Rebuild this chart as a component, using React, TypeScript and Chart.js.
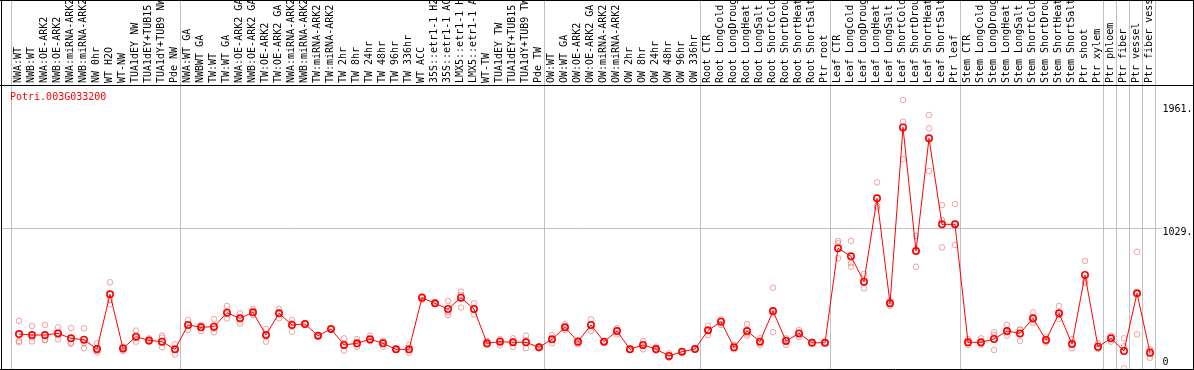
import React, { useEffect, useRef } from 'react';
import { Chart, registerables } from 'chart.js';

Chart.register(...registerables);

const GENE_TITLE = 'Potri.003G033200';

const categories = [
  'NWA:WT', 'NWB:WT', 'NWA:OE-ARK2', 'NWB:OE-ARK2', 'NWA:miRNA-ARK2', 'NWB:miRNA-ARK2', 'NW 0hr', 'WT H2O', 'WT-NW',
  'TUA1dEY NW', 'TUA1dEY+TUB15', 'TUA1dY+TUB9 NW', 'Pde NW',
  'NWA:WT GA', 'NWBWT GA', 'TW:WT', 'TW:WT GA', 'NWA:OE-ARK2 GA', 'NWB:OE-ARK2 GA', 'TW:OE-ARK2', 'TW:OE-ARK2 GA',
  'NWA:miRNA-ARK2', 'NWB:miRNA-ARK2', 'TW:miRNA-ARK2', 'TW:miRNA-ARK2', 'TW 2hr', 'TW 8hr', 'TW 24hr', 'TW 48hr',
  'TW 96hr', 'TW 336hr', 'WT ACC', '35S::etr1-1 H2', '35S::etr1-1 AC', 'LMX5::etr1-1 H', 'LMX5::etr1-1 A', 'WT-TW',
  'TUA1dEY TW', 'TUA1dEY+TUB15', 'TUA1dY+TUB9 TW', 'Pde TW',
  'OW:WT', 'OW:WT GA', 'OW:OE-ARK2', 'OW:OE-ARK2 GA', 'OW:miRNA-ARK2', 'OW:miRNA-ARK2', 'OW 2hr', 'OW 8hr', 'OW 24hr',
  'OW 48hr', 'OW 96hr', 'OW 336hr',
  'Root CTR', 'Root LongCold', 'Root LongDroug', 'Root LongHeat', 'Root LongSalt', 'Root ShortCold', 'Root ShortDrou',
  'Root ShortHeat', 'Root ShortSalt', 'Ptr root',
  'Leaf CTR', 'Leaf LongCold', 'Leaf LongDroug', 'Leaf LongHeat', 'Leaf LongSalt', 'Leaf ShortCold', 'Leaf ShortDrou',
  'Leaf ShortHeat', 'Leaf ShortSalt', 'Ptr leaf',
  'Stem CTR', 'Stem LongCold', 'Stem LongDroug', 'Stem LongHeat', 'Stem LongSalt', 'Stem ShortCold', 'Stem ShortDrou',
  'Stem ShortHeat', 'Stem ShortSalt', 'Ptr shoot', 'Ptr xylem',
  'Ptr phloem', 'Ptr fiber', 'Ptr vessel', 'Ptr fiber vess',
];

// mean expression per sample
const meanValues = [
  261, 254, 254, 266, 230, 220, 152, 550, 157, 242, 215, 206, 150,
  327, 310, 315, 416, 375, 419, 254, 412, 327, 334, 249, 298, 182, 194, 223, 194, 150, 150, 525, 484, 443, 525, 443,
  194, 206, 201, 201, 165,
  223, 310, 206, 327, 206, 283, 150, 182, 152, 102, 133, 152,
  288, 351, 165, 283, 206, 428, 211, 266, 198, 198,
  884, 826, 641, 1247, 484, 1762, 864, 1683, 1058, 1058,
  201, 201, 225, 283, 266, 375, 218, 412, 189, 690, 169,
  230, 138, 557, 126,
];

// individual replicates
const replicate1 = [
  356, 320, 327, 310, 305, 303, 194, 637, 169, 286, 230, 249, 187,
  363, 327, 370, 465, 412, 443, 298, 443, 363, 340, 255, 300, 230, 225, 249, 201, 155, 182, 532, 490, 501, 569, 484,
  211, 225, 230, 249, 172,
  254, 332, 218, 368, 210, 303, 155, 211, 169, 121, 135, 155,
  320, 368, 182, 334, 230, 598, 230, 290, 205, 200,
  937, 937, 697, 1363, 501, 1961, 975, 1852, 1198, 1205,
  225, 230, 274, 327, 295, 419, 237, 465, 225, 792, 194,
  249, 230, 859, 150,
];

const replicate2 = [
  211, 208, 218, 223, 198, 194, 138, 508, 162, 206, 208, 235, 114,
  290, 283, 274, 375, 339, 399, 206, 375, 278, 330, 245, 296, 140, 169, 211, 169, 148, 126, 508, 480, 399, 453, 404,
  182, 179, 169, 215, 158,
  194, 290, 187, 283, 205, 259, 148, 150, 140, 89, 130, 150,
  254, 327, 150, 249, 182, 274, 182, 240, 195, 196,
  920, 775, 593, 1193, 467, 1803, 750, 1755, 1089, 908,
  182, 182, 145, 249, 211, 343, 201, 399, 158, 641, 158,
  206, 12, 259, 89,
];

const replicate3 = [
  201, 235, 218, 265, 191, 158, 128, 477, 138, 236, 208, 165, 150,
  327, 320, 300, 408, 375, 415, 258, 418, 340, 332, 247, 298, 176, 188, 209, 212, 148, 145, 535, 482, 419, 545, 441,
  189, 214, 204, 158, 165,
  221, 308, 213, 330, 203, 287, 147, 185, 147, 96, 134, 151,
  290, 358, 163, 266, 206, 412, 221, 268, 195, 198,
  811, 750, 633, 1179, 484, 1532, 868, 1445, 891, 1061,
  196, 191, 256, 273, 292, 363, 216, 372, 184, 630, 155,
  235, 172, 553, 139,
];

const yTickValues = [0, 1029, 1961];
const yTickLabels = ['0', '1029.', '1961.'];
const groupStarts = [0, 13, 41, 53, 63, 73, 84, 85, 86, 87, 88];

const MONO = '"DejaVu Sans Mono", "Liberation Mono", monospace';

const framePlugin = {
  id: 'framePlugin',
  beforeDatasetsDraw(chart: any) {
    const { ctx } = chart;
    const xs = chart.scales.x;
    const ys = chart.scales.y;
    const x0 = xs.getPixelForValue(0);
    const step = xs.getPixelForValue(1) - x0;
    ctx.save();
    ctx.strokeStyle = '#c0c0c0';
    ctx.lineWidth = 1;
    ctx.beginPath();
    for (const g of groupStarts) {
      const px = Math.round(x0 + g * step - 8) + 0.5;
      ctx.moveTo(px, 0);
      ctx.lineTo(px, chart.height);
    }
    const gy = Math.floor(ys.getPixelForValue(yTickValues[1])) + 0.5;
    ctx.moveTo(1, gy);
    ctx.lineTo(chart.chartArea.right + 5, gy);
    ctx.stroke();
    ctx.fillStyle = '#ff0000';
    ctx.font = '10px ' + MONO;
    ctx.textBaseline = 'middle';
    ctx.textAlign = 'left';
    ctx.fillText(GENE_TITLE, 10, chart.chartArea.top + 12);
    ctx.restore();
  },
  afterDatasetsDraw(chart: any) {
    const { ctx } = chart;
    const W = chart.width;
    const top = chart.chartArea.top;
    ctx.save();
    ctx.strokeStyle = '#000000';
    ctx.lineWidth = 1;
    ctx.beginPath();
    ctx.moveTo(0, 0.5); ctx.lineTo(W, 0.5);
    ctx.moveTo(0, top + 0.5); ctx.lineTo(W, top + 0.5);
    ctx.moveTo(0, 369.5); ctx.lineTo(W, 369.5);
    ctx.moveTo(1.5, 0); ctx.lineTo(1.5, 370);
    ctx.moveTo(W - 0.5, 0); ctx.lineTo(W - 0.5, 370);
    ctx.stroke();
    ctx.restore();
  },
};

export default function App() {
  const canvasRef = useRef<HTMLCanvasElement | null>(null);

  useEffect(() => {
    const canvas = canvasRef.current;
    if (!canvas) return;
    const repColor = 'rgba(235, 100, 100, 0.6)';
    const repDataset = (label: string, data: number[]) => ({
      label,
      data,
      showLine: false,
      borderColor: repColor,
      backgroundColor: 'transparent',
      pointBorderColor: repColor,
      pointBackgroundColor: 'transparent',
      pointRadius: 2.8,
      pointBorderWidth: 1,
      pointHoverRadius: 2.8,
    });
    const chart = new Chart(canvas, {
      type: 'line',
      data: {
        labels: categories,
        datasets: [
          {
            label: 'mean',
            data: meanValues,
            borderColor: '#ff0000',
            borderWidth: 1,
            backgroundColor: 'transparent',
            pointBorderColor: '#ff0000',
            pointBackgroundColor: 'transparent',
            pointRadius: 3.2,
            pointHoverRadius: 3.2,
            pointBorderWidth: 1.6,
            tension: 0,
            clip: 4,
          },
          repDataset('rep1', replicate1),
          repDataset('rep2', replicate2),
          repDataset('rep3', replicate3),
        ],
      },
      options: {
        responsive: false,
        animation: false,
        devicePixelRatio: 1,
        layout: { autoPadding: false, padding: { left: 12.5, right: 0, top: 0, bottom: 0 } },
        plugins: {
          legend: { display: false },
          title: { display: false },
          tooltip: { enabled: false },
        },
        scales: {
          x: {
            type: 'category',
            position: 'top',
            offset: true,
            grid: { display: false, drawTicks: false, tickLength: 0 },
            border: { display: false },
            ticks: {
              autoSkip: false,
              minRotation: 90,
              maxRotation: 90,
              padding: 2,
              labelOffset: 11,
              color: '#000000',
              font: { family: MONO, size: 10, lineHeight: 1.2 },
            },
            afterFit: (s: any) => {
              s.height = 85;
              s.paddingLeft = 0;
              s.paddingRight = 0;
            },
          },
          y: {
            type: 'linear',
            position: 'right',
            min: 0,
            max: 2070,
            afterBuildTicks: (s: any) => { s.ticks = yTickValues.map((v) => ({ value: v })); },
            grid: { display: false, drawTicks: false, tickLength: 0 },
            border: { display: false },
            ticks: {
              padding: 6,
              color: '#000000',
              callback: (v: any) => {
                const i = yTickValues.indexOf(Number(v));
                const t = i >= 0 ? yTickLabels[i] : String(v);
                if (Number(v) === 0) return [t, ''];
                return ['', t];
              },
              font: (c: any) => {
                const v = c.tick ? c.tick.value : 0;
                const lh = v === 0 ? 16 : v === 1029 ? 8 : 18.6;
                return { family: MONO, size: 10, lineHeight: lh + 'px' };
              },
            },
            afterFit: (s: any) => {
              s.width = 37.5;
              s.paddingTop = 0;
              s.paddingBottom = 0;
            },
          },
        },
      },
      plugins: [framePlugin],
    } as any);
    return () => chart.destroy();
  }, []);

  return (
    <div style={{ position: 'absolute', left: 0, top: 0, width: 1194, height: 370, overflow: 'hidden', background: '#fff' }}>
      <canvas ref={canvasRef} width={1194} height={370} style={{ display: 'block', width: 1194, height: 370 }} />
    </div>
  );
}
